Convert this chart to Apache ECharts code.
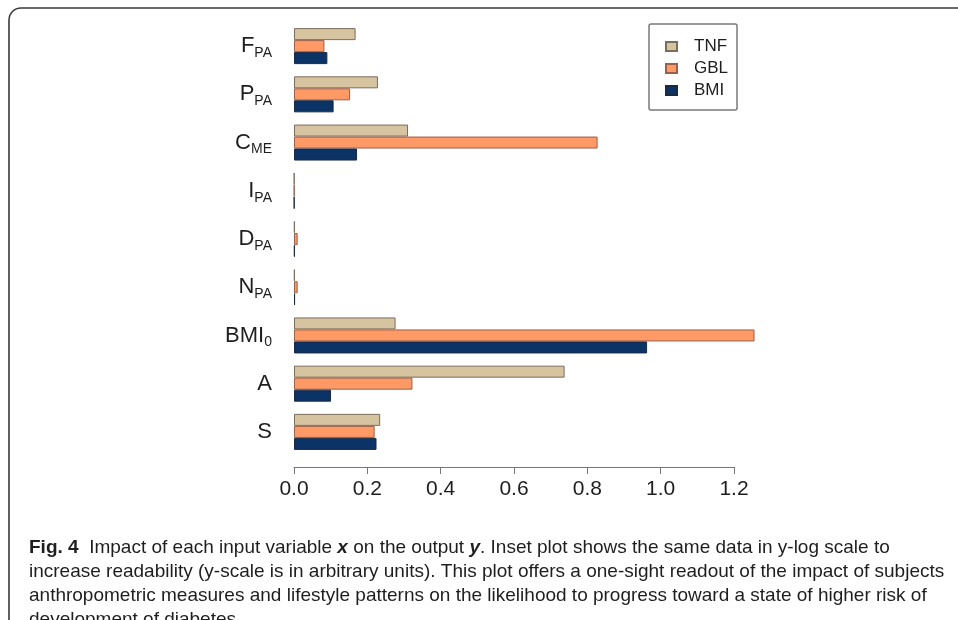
<!DOCTYPE html>
<html>
<head>
<meta charset="utf-8">
<script src="https://cdn.jsdelivr.net/npm/echarts@6/dist/echarts.min.js"></script>
<style>
  html, body {margin: 0; padding: 0; background: #fff;}
  #chart {width: 958px; height: 620px;}
</style>
</head>
<body>
<div id="chart"></div>
<script>
// Input variables, top to bottom; subscripts kept apart for the rich labels.
const catMain = ["F", "P", "C", "I", "D", "N", "BMI", "A", "S"]
const catSub = ["PA", "PA", "ME", "PA", "PA", "PA", "0", "", ""]
const categories = catMain.map((m, i) => m + catSub[i])

const tnf = [0.168, 0.229, 0.311, 0.001, 0.002, 0.002, 0.277, 0.738, 0.235]
const gbl = [0.083, 0.153, 0.828, 0.001, 0.010, 0.010, 1.256, 0.323, 0.220]
const bmi = [0.091, 0.108, 0.172, 0.001, 0.002, 0.003, 0.963, 0.101, 0.225]

const xTicks = [0, 0.2, 0.4, 0.6, 0.8, 1.0, 1.2]

const captionLines = [
  "{b|Fig. 4}  Impact of each input variable {bi|x} on the output {bi|y}. Inset plot shows the same data in y-log scale to",
  "increase readability (y-scale is in arbitrary units). This plot offers a one-sight readout of the impact of subjects",
  "anthropometric measures and lifestyle patterns on the likelihood to progress toward a state of higher risk of",
  "development of diabetes",
]

const SANS = "'Liberation Sans', Arial, sans-serif"
const CAPTION = "'Liberation Sans Narrow', 'Liberation Sans', sans-serif"
const INK = "#1e1e1e"

const bar = (name, data, color, border) => ({
  name,
  type: "bar",
  data,
  barWidth: 12,
  barGap: "0%",
  clip: false,
  itemStyle: {color, borderColor: border, borderWidth: 1},
})

const chart = echarts.init(document.getElementById("chart"), null, {renderer: "canvas"})

chart.setOption({
  animation: false,
  grid: {left: 294, right: 224, top: 22, height: 434, containLabel: false},
  legend: {
    orient: "vertical",
    left: 649,
    top: 24,
    padding: [14, 9, 11, 16],
    itemWidth: 11,
    itemHeight: 9,
    itemGap: 5,
    icon: "rect",
    borderColor: "#7a7a7a",
    borderWidth: 1.5,
    borderRadius: 2,
    textStyle: {fontFamily: SANS, fontSize: 17, color: INK, padding: [0, 0, 0, 12]},
    data: ["TNF", "GBL", "BMI"],
  },
  xAxis: {
    type: "value",
    min: 0,
    max: 1.2,
    interval: 0.2,
    offset: 11,
    splitLine: {show: false},
    axisLine: {show: true, lineStyle: {color: "#777", width: 1}},
    axisTick: {show: true, length: 7, lineStyle: {color: "#777"}},
    axisLabel: {
      margin: 12,
      fontFamily: SANS,
      fontSize: 21,
      color: INK,
      formatter: v => (xTicks.includes(+v.toFixed(1)) ? v.toFixed(1) : ""),
    },
  },
  yAxis: {
    type: "category",
    inverse: true,
    data: categories,
    axisLine: {show: false},
    axisTick: {show: false},
    axisLabel: {
      margin: 22,
      formatter: (v, i) => `{m|${catMain[i]}}` + (catSub[i] ? `{s|${catSub[i]}}` : ""),
      rich: {
        m: {fontFamily: SANS, fontSize: 22, color: INK, lineHeight: 28, verticalAlign: "middle"},
        s: {fontFamily: SANS, fontSize: 14, color: INK, lineHeight: 14, verticalAlign: "bottom", padding: [0, 0, 0, 0]},
      },
    },
  },
  series: [
    bar("TNF", tnf, "#d6c3a0", "#7c6e5c"),
    bar("GBL", gbl, "#ff9966", "#99604a"),
    bar("BMI", bmi, "#0b3366", "#1a2a44"),
  ],
  graphic: [
    {
      type: "rect",
      shape: {x: 9, y: 8, width: 980, height: 640, r: [12, 0, 0, 0]},
      style: {fill: null, stroke: "#3a3a3a", lineWidth: 1.6},
      silent: true,
    },
    ...captionLines.map((line, i) => ({
      type: "text",
      left: 29,
      top: 538 + i * 24,
      style: {
        text: line,
        fontFamily: CAPTION,
        fontSize: 19,
        fill: INK,
        rich: {
          b: {fontFamily: CAPTION, fontSize: 19, fontWeight: "bold", fill: INK},
          bi: {fontFamily: CAPTION, fontSize: 19, fontWeight: "bold", fontStyle: "italic", fill: INK},
        },
      },
      silent: true,
    })),
  ],
})
</script>
</body>
</html>
